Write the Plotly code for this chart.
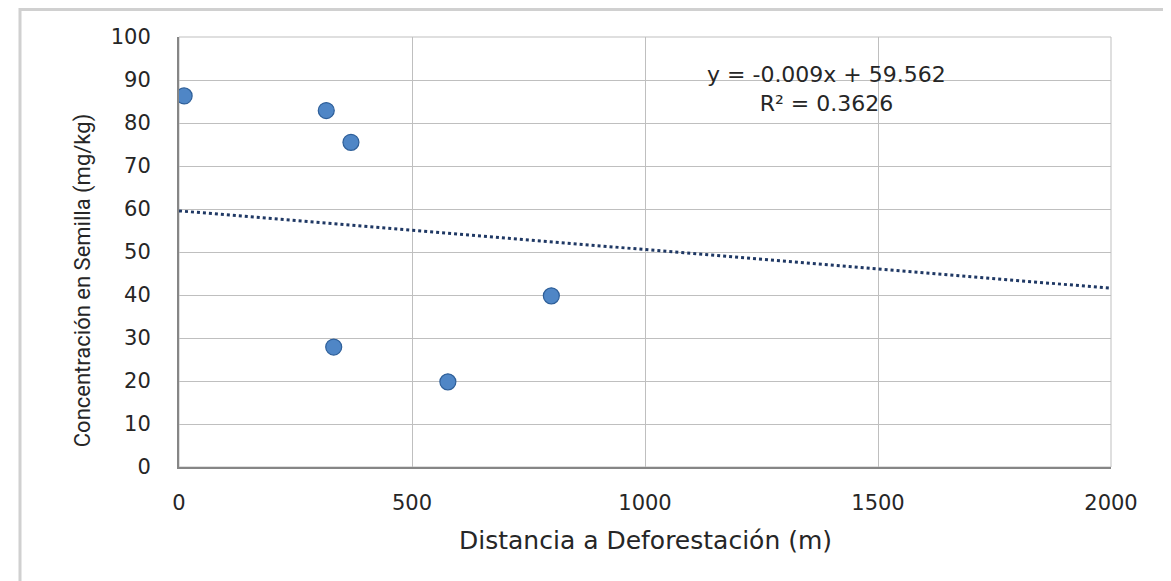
import plotly.graph_objects as go

# Data
distance_m = [11, 316, 369, 332, 577, 799]
concentration_mgkg = [86.3, 82.9, 75.5, 27.9, 19.8, 39.8]

# Linear trendline (as printed on the chart)
trend_slope = -0.009
trend_intercept = 59.562
trend_x = [0, 2000]
trend_r2 = 0.3626

x_ticks = [0, 500, 1000, 1500, 2000]
y_ticks = [0, 10, 20, 30, 40, 50, 60, 70, 80, 90, 100]

trend_y = [trend_slope * v + trend_intercept for v in trend_x]

fig = go.Figure()
fig.add_trace(go.Scatter(
    x=trend_x, y=trend_y, mode="lines",
    line=dict(color="#1F3864", width=3, dash="dot"),
    hoverinfo="skip", showlegend=False,
))
fig.add_trace(go.Scatter(
    x=distance_m, y=concentration_mgkg, mode="markers",
    marker=dict(size=16, color="#4F86C6", line=dict(color="#2E5F99", width=1.2)),
    showlegend=False,
))

tick_font = dict(family="DejaVu Sans, Open Sans, sans-serif", size=21, color="#262626")

fig.update_layout(
    width=1163, height=573,
    margin=dict(l=171, r=60, t=29, b=114),
    paper_bgcolor="white", plot_bgcolor="white",
    xaxis=dict(
        range=[0, 2000], tickvals=x_ticks, ticktext=[str(v) for v in x_ticks],
        showgrid=True, gridcolor="#BFBFBF", gridwidth=1,
        zeroline=False, showline=True, linecolor="#868686", linewidth=2,
        mirror=False, ticks="outside", ticklen=16, tickcolor="rgba(0,0,0,0)",
        tickfont=tick_font, fixedrange=True,
    ),
    yaxis=dict(
        range=[0, 100], tickvals=y_ticks, ticktext=[str(v) for v in y_ticks],
        showgrid=True, gridcolor="#BFBFBF", gridwidth=1,
        zeroline=False, showline=True, linecolor="#868686", linewidth=2,
        ticks="outside", ticklen=22, tickcolor="rgba(0,0,0,0)",
        tickfont=tick_font, fixedrange=True,
    ),
    shapes=[
        dict(type="rect", xref="paper", yref="paper", x0=0, y0=0, x1=1, y1=1,
             line=dict(color="#BFBFBF", width=1), layer="below"),
        dict(type="rect", xref="paper", yref="paper", x0=-0.1706, y0=-0.35, x1=1.3, y1=1.064,
             line=dict(color="#D0D0D0", width=3), layer="below"),
    ],
    annotations=[
        dict(text=f"y = {trend_slope}x + {trend_intercept}<br>R² = {trend_r2}",
             xref="paper", yref="paper", x=0.695, y=0.879, showarrow=False,
             font=dict(family="DejaVu Sans, Open Sans, sans-serif", size=22, color="#262626"),
             align="center", xanchor="center", yanchor="middle"),
        dict(text="Distancia a Deforestación (m)", xref="paper", yref="paper",
             x=0.5, y=-0.1698, showarrow=False, xanchor="center", yanchor="middle",
             font=dict(family="DejaVu Sans, Open Sans, sans-serif", size=25, color="#262626")),
        dict(text="Concentración en Semilla (mg/kg)", xref="paper", yref="paper",
             x=-0.1027, y=0.435, showarrow=False, textangle=-90,
             xanchor="center", yanchor="middle",
             font=dict(family="Liberation Sans Narrow, Roboto, sans-serif", size=22, color="#262626")),
    ],
)

fig.write_html("out.html")
